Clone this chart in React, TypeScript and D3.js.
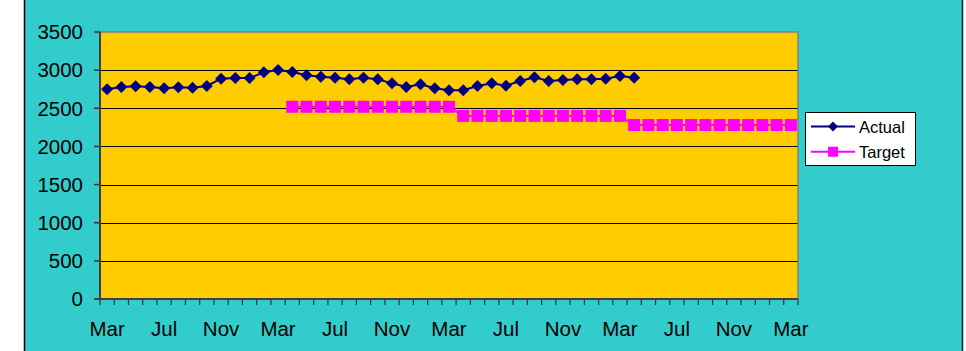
import * as d3 from "d3";
import { useEffect, useRef } from "react";

const months = [
    "Mar", "Apr", "May", "Jun", "Jul", "Aug", "Sep", "Oct", "Nov", "Dec", "Jan", "Feb",
    "Mar", "Apr", "May", "Jun", "Jul", "Aug", "Sep", "Oct", "Nov", "Dec", "Jan", "Feb",
    "Mar", "Apr", "May", "Jun", "Jul", "Aug", "Sep", "Oct", "Nov", "Dec", "Jan", "Feb",
    "Mar", "Apr", "May", "Jun", "Jul", "Aug", "Sep", "Oct", "Nov", "Dec", "Jan", "Feb",
    "Mar",
];

const actual = [
    2749, 2779, 2788, 2779, 2762, 2775, 2770, 2792, 2888, 2897, 2897, 2971,
    3002, 2976, 2932, 2914, 2901, 2880, 2901, 2880, 2827, 2779, 2814, 2762,
    2736, 2736, 2792, 2827, 2797, 2858, 2906, 2858, 2871, 2880, 2880, 2888,
    2923, 2901,
];

const target: (number | null)[] = [
    null, null, null, null, null, null, null, null, null, null, null, null,
    null, 2520, 2520, 2520, 2520, 2520, 2520, 2520, 2520, 2520, 2520, 2520,
    2520, 2400, 2400, 2400, 2400, 2400, 2400, 2400, 2400, 2400, 2400, 2400,
    2400, 2280, 2280, 2280, 2280, 2280, 2280, 2280, 2280, 2280, 2280, 2280,
    2280,
];

const yTicks = [0, 500, 1000, 1500, 2000, 2500, 3000, 3500];

const W = 966;
const H = 351;
const FONT = "'Liberation Sans', Arial, sans-serif";

export default function App() {
    const ref = useRef<SVGSVGElement | null>(null);

    useEffect(() => {
        if (!ref.current) return;
        const svg = d3.select(ref.current);
        svg.selectAll("*").remove();

        const plot = { left: 100, right: 798, top: 32, bottom: 299 };

        // outer frame
        svg.append("rect").attr("x", 0).attr("y", 0).attr("width", W).attr("height", H).attr("fill", "#fff");
        svg.append("rect").attr("x", 24).attr("y", 0).attr("width", 939).attr("height", H).attr("fill", "#33cccc");
        svg.append("line").attr("x1", 24.5).attr("x2", 24.5).attr("y1", 0).attr("y2", H).attr("stroke", "#000").attr("stroke-width", 1.5);
        svg.append("line").attr("x1", 962.5).attr("x2", 962.5).attr("y1", 0).attr("y2", H).attr("stroke", "#0a2a2a").attr("stroke-width", 1.5);

        const x = d3.scaleBand<number>()
            .domain(months.map((_, i) => i))
            .range([plot.left, plot.right])
            .padding(0);
        const cx = (i: number) => (x(i) as number) + x.bandwidth() / 2;

        const y = d3.scaleLinear().domain([0, 3500]).range([plot.bottom, plot.top]);

        svg.append("rect")
            .attr("x", plot.left).attr("y", plot.top)
            .attr("width", plot.right - plot.left).attr("height", plot.bottom - plot.top)
            .attr("fill", "#ffcc00");

        // gridlines
        svg.append("g")
            .selectAll("line")
            .data(yTicks.filter(t => t > 0 && t < 3500))
            .join("line")
            .attr("x1", plot.left).attr("x2", plot.right)
            .attr("y1", d => Math.round(y(d)) + 0.5).attr("y2", d => Math.round(y(d)) + 0.5)
            .attr("stroke", "#000").attr("stroke-width", 1);

        // top/right border
        svg.append("path")
            .attr("d", `M${plot.left},${plot.top}H${plot.right}V${plot.bottom}`)
            .attr("fill", "none").attr("stroke", "#808080").attr("stroke-width", 1.5);

        // y axis
        const yAxis = svg.append("g");
        yAxis.selectAll("line")
            .data(yTicks)
            .join("line")
            .attr("x1", plot.left - 6).attr("x2", plot.left)
            .attr("y1", d => y(d)).attr("y2", d => y(d))
            .attr("stroke", "#333").attr("stroke-width", 1.5);
        yAxis.selectAll("text")
            .data(yTicks)
            .join("text")
            .attr("x", 83).attr("y", d => y(d) + 7.3)
            .attr("text-anchor", "end")
            .attr("font-family", FONT).attr("font-size", 20.5).attr("fill", "#000")
            .text(d => d);

        // x axis ticks at category boundaries
        const bounds = months.map((_, i) => x(i) as number).concat([plot.right]);
        svg.append("g")
            .selectAll("line")
            .data(bounds)
            .join("line")
            .attr("x1", d => d).attr("x2", d => d)
            .attr("y1", plot.bottom).attr("y2", plot.bottom + 6)
            .attr("stroke", "#333").attr("stroke-width", 1.2);

        svg.append("g")
            .selectAll("text")
            .data(months.map((m, i) => ({ m, i })).filter(d => d.i % 4 === 0))
            .join("text")
            .attr("x", d => cx(d.i)).attr("y", 336)
            .attr("text-anchor", "middle")
            .attr("font-family", FONT).attr("font-size", 20.5).attr("fill", "#000")
            .text(d => d.m);

        svg.append("line")
            .attr("x1", plot.left).attr("x2", plot.left)
            .attr("y1", plot.top).attr("y2", plot.bottom)
            .attr("stroke", "#404040").attr("stroke-width", 2);
        svg.append("line")
            .attr("x1", plot.left - 6).attr("x2", plot.right)
            .attr("y1", plot.bottom).attr("y2", plot.bottom)
            .attr("stroke", "#404040").attr("stroke-width", 2);

        // target series
        const line = d3.line<[number, number | null]>()
            .defined(d => d[1] != null)
            .x(d => cx(d[0]))
            .y(d => y(d[1] as number));

        const tPts = target.map((v, i) => [i, v] as [number, number | null]);
        svg.append("path")
            .datum(tPts)
            .attr("fill", "none").attr("stroke", "#ff00ff").attr("stroke-width", 2)
            .attr("d", line);
        svg.append("g")
            .selectAll("rect")
            .data(tPts.filter(d => d[1] != null))
            .join("rect")
            .attr("x", d => cx(d[0]) - 6).attr("y", d => y(d[1] as number) - 6)
            .attr("width", 12).attr("height", 12)
            .attr("fill", "#ff00ff");

        // actual series
        const aPts = actual.map((v, i) => [i, v] as [number, number | null]);
        svg.append("path")
            .datum(aPts)
            .attr("fill", "none").attr("stroke", "#000080").attr("stroke-width", 2)
            .attr("d", line);
        svg.append("g")
            .selectAll("path")
            .data(aPts)
            .join("path")
            .attr("d", d => {
                const px = cx(d[0]);
                const py = y(d[1] as number);
                return `M${px},${py - 6}L${px + 6},${py}L${px},${py + 6}L${px - 6},${py}Z`;
            })
            .attr("fill", "#000080");

        // legend
        const lg = svg.append("g");
        lg.append("rect")
            .attr("x", 805.5).attr("y", 112.5).attr("width", 110).attr("height", 53)
            .attr("fill", "#fff").attr("stroke", "#000").attr("stroke-width", 1);
        const items = [
            { name: "Actual", color: "#000080", shape: "diamond", cy: 126.5, base: 132.5 },
            { name: "Target", color: "#ff00ff", shape: "square", cy: 151.7, base: 158.3 },
        ];
        items.forEach(it => {
            lg.append("line")
                .attr("x1", 811).attr("x2", 855).attr("y1", it.cy).attr("y2", it.cy)
                .attr("stroke", it.color).attr("stroke-width", 2);
            if (it.shape === "diamond") {
                lg.append("path")
                    .attr("d", `M833,${it.cy - 5}L838,${it.cy}L833,${it.cy + 5}L828,${it.cy}Z`)
                    .attr("fill", it.color);
            } else {
                lg.append("rect")
                    .attr("x", 828).attr("y", it.cy - 5).attr("width", 10).attr("height", 10)
                    .attr("fill", it.color);
            }
            lg.append("text")
                .attr("x", 859).attr("y", it.base)
                .attr("font-family", FONT).attr("font-size", 16.5).attr("fill", "#000")
                .text(it.name);
        });
    }, []);

    return (
        <div style={{ position: "absolute", left: 0, top: 0 }}>
            <svg ref={ref} width={W} height={H} style={{ display: "block" }} />
        </div>
    );
}
